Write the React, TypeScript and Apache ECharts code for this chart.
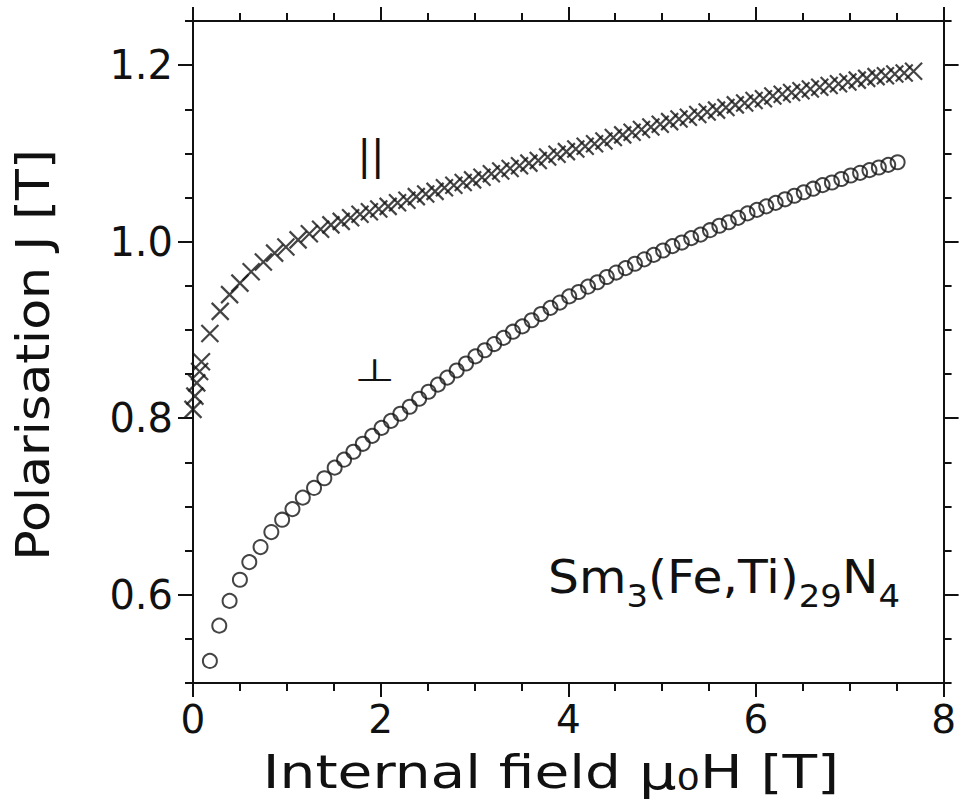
import React, { useEffect, useRef } from "react";
import * as echarts from "echarts";

// Parallel (||) field data: internal field [T] and polarisation [T]
const parField = [
  0, 0.02, 0.04, 0.07, 0.09, 0.18, 0.29, 0.39, 0.5, 0.62, 0.75, 0.87, 0.99, 1.12, 1.24, 1.36, 1.47, 1.58, 1.68, 1.78, 1.88,
  1.98, 2.08, 2.18, 2.28, 2.38, 2.48, 2.58, 2.68, 2.78, 2.88, 2.98, 3.08, 3.18, 3.28, 3.38, 3.48, 3.58, 3.68, 3.78, 3.88,
  3.98, 4.08, 4.18, 4.28, 4.38, 4.48, 4.58, 4.68, 4.78, 4.88, 4.98, 5.08, 5.18, 5.28, 5.38, 5.48, 5.58, 5.68, 5.78, 5.88,
  5.98, 6.08, 6.18, 6.28, 6.38, 6.48, 6.58, 6.68, 6.78, 6.88, 6.98, 7.08, 7.18, 7.28, 7.38, 7.48, 7.58, 7.68,
];
const parJ = [
  0.81, 0.825, 0.84, 0.853, 0.864, 0.896, 0.921, 0.94, 0.953, 0.966, 0.977, 0.987, 0.994, 1.002, 1.009, 1.014, 1.019, 1.023, 1.027, 1.031, 1.034,
  1.037, 1.04, 1.044, 1.047, 1.051, 1.054, 1.057, 1.061, 1.064, 1.067, 1.07, 1.073, 1.077, 1.08, 1.083, 1.086, 1.089, 1.092, 1.096, 1.099,
  1.102, 1.105, 1.108, 1.111, 1.114, 1.118, 1.121, 1.124, 1.127, 1.13, 1.133, 1.136, 1.139, 1.141, 1.144, 1.147, 1.149, 1.152, 1.155, 1.157,
  1.16, 1.162, 1.165, 1.167, 1.169, 1.171, 1.173, 1.175, 1.177, 1.179, 1.181, 1.183, 1.185, 1.187, 1.188, 1.19, 1.191, 1.193,
];

// Perpendicular field data
const perpField = [
  0.18, 0.28, 0.39, 0.5, 0.6, 0.72, 0.835, 0.95, 1.06, 1.17, 1.29, 1.4,
  1.51, 1.61, 1.71, 1.81, 1.91, 2.01, 2.11, 2.21, 2.31, 2.41, 2.51, 2.61, 2.71, 2.81, 2.91,
  3.01, 3.11, 3.21, 3.31, 3.41, 3.51, 3.61, 3.71, 3.81, 3.91, 4.01, 4.11, 4.21, 4.31, 4.41,
  4.51, 4.61, 4.71, 4.81, 4.91, 5.01, 5.11, 5.21, 5.31, 5.41, 5.51, 5.61, 5.71, 5.81, 5.91,
  6.01, 6.11, 6.21, 6.31, 6.41, 6.51, 6.61, 6.71, 6.81, 6.91, 7.01, 7.11, 7.21, 7.31, 7.41, 7.51,
];
const perpJ = [
  0.525, 0.565, 0.593, 0.617, 0.637, 0.654, 0.671, 0.685, 0.697, 0.71, 0.721, 0.732,
  0.744, 0.753, 0.762, 0.771, 0.78, 0.789, 0.797, 0.805, 0.813, 0.822, 0.83, 0.838, 0.846, 0.854, 0.862,
  0.87, 0.877, 0.884, 0.891, 0.898, 0.904, 0.911, 0.918, 0.925, 0.931, 0.938, 0.943, 0.949, 0.954, 0.96,
  0.965, 0.97, 0.975, 0.98, 0.985, 0.99, 0.995, 0.999, 1.004, 1.008, 1.013, 1.018, 1.022, 1.027, 1.032,
  1.036, 1.04, 1.044, 1.048, 1.052, 1.056, 1.06, 1.064, 1.067, 1.071, 1.075, 1.078, 1.081, 1.084, 1.087, 1.09,
];

const yMajorTicks = [0.6, 0.8, 1.0, 1.2];
const yTitle = "Polarisation J [T]";

const FONT = "DejaVu Sans";
const INK = "#111111";

export default function App() {
  const ref = useRef<HTMLDivElement>(null);

  useEffect(() => {
    if (!ref.current) return;
    const chart = echarts.init(ref.current, null, { renderer: "svg" });

    const axisLine = { show: true, lineStyle: { color: INK, width: 2 } };
    const xBase = (pos: "top" | "bottom", labels: boolean) => ({
      type: "value",
      min: 0,
      max: 8,
      interval: 2,
      position: pos,
      axisLine,
      axisTick: { show: true, length: 14, inside: false, lineStyle: { color: INK, width: 2 } },
      minorTick: { show: true, splitNumber: 4, length: 8, lineStyle: { color: INK, width: 2 } },
      splitLine: { show: false },
      minorSplitLine: { show: false },
      axisLabel: {
        show: labels,
        fontSize: 39,
        fontFamily: FONT,
        color: INK,
        margin: 17,
      },
    });
    const yMinor = (pos: "left" | "right", labels: boolean) => ({
      type: "value",
      min: 0.5,
      max: 1.25,
      interval: 0.05,
      position: pos,
      axisLine,
      axisTick: { show: true, length: 8, inside: false, lineStyle: { color: INK, width: 2 } },
      splitLine: { show: false },
      axisLabel: {
        show: labels,
        customValues: yMajorTicks,
        formatter: (v: number) => Number(v).toFixed(1),
        fontSize: 40,
        fontFamily: FONT,
        color: INK,
        margin: 20,
      },
    });
    const yMajor = (pos: "left" | "right") => ({
      type: "value",
      min: 0.5,
      max: 1.25,
      position: pos,
      axisLine: { show: false },
      axisTick: { show: true, length: 15, inside: false, customValues: yMajorTicks, lineStyle: { color: INK, width: 2 } },
      axisLabel: { show: false },
      splitLine: { show: false },
    });

    chart.setOption({
      animation: false,
      backgroundColor: "#ffffff",
      grid: { left: 193, right: 12, top: 21, bottom: 121, containLabel: false },
      xAxis: [xBase("bottom", true), xBase("top", false)],
      yAxis: [yMinor("left", true), yMajor("left"), yMinor("right", false), yMajor("right")],
      series: [
        {
          name: "parallel",
          type: "scatter",
          xAxisIndex: 0,
          yAxisIndex: 0,
          data: parField.map((x, i) => [x, parJ[i]]),
          symbol: "path://M0,0L10,10M10,0L0,10",
          symbolSize: 17,
          itemStyle: { color: "rgba(0,0,0,0)", borderColor: "#151515", borderWidth: 2.2 },
        },
        {
          name: "perpendicular",
          type: "scatter",
          xAxisIndex: 0,
          yAxisIndex: 0,
          data: perpField.map((x, i) => [x, perpJ[i]]),
          symbol: "circle",
          symbolSize: 14,
          itemStyle: { color: "rgba(0,0,0,0)", borderColor: "#151515", borderWidth: 2 },
        },
      ],
      graphic: [
        {
          type: "text",
          x: 551,
          y: 772,
          scaleX: 1.23,
          style: {
            text: "{n|Internal field }{m|μ}{s|0}{n|H [T]}",
            align: "center",
            verticalAlign: "middle",
            rich: {
              n: { fontSize: 46, fontFamily: FONT, fill: INK, lineHeight: 46, verticalAlign: "middle" },
              m: { fontSize: 48, fontFamily: FONT, fill: INK, lineHeight: 46, verticalAlign: "middle" },
              s: { fontSize: 30, fontFamily: FONT, fill: INK, verticalAlign: "bottom" },
            },
          },
        },
        {
          type: "text",
          x: 33,
          y: 355,
          rotation: Math.PI / 2,
          scaleX: 1.1,
          style: {
            text: yTitle,
            align: "center",
            verticalAlign: "middle",
            fontSize: 46,
            fontFamily: FONT,
            fill: INK,
          },
        },
        {
          type: "text",
          x: 371,
          y: 155,
          style: { text: "||", align: "center", verticalAlign: "middle", fontSize: 40, fontFamily: FONT, fill: INK },
        },
        {
          type: "text",
          x: 375,
          y: 370,
          scaleX: 1.5,
          style: { text: "⊥", align: "center", verticalAlign: "middle", fontSize: 31, fontFamily: FONT, fill: INK },
        },
        {
          type: "text",
          x: 548,
          y: 577,
          scaleX: 1.06,
          style: {
            text: "{n|Sm}{s|3}{n|(Fe,Ti)}{s|29}{n|N}{s|4}",
            align: "left",
            verticalAlign: "middle",
            rich: {
              n: { fontSize: 46, fontFamily: FONT, fill: INK, lineHeight: 70, verticalAlign: "middle" },
              s: { fontSize: 32, fontFamily: FONT, fill: INK, verticalAlign: "bottom" },
            },
          },
        },
      ],
    });

    return () => chart.dispose();
  }, []);

  return (
    <div
      ref={ref}
      style={{ position: "fixed", left: 0, top: 0, width: 959, height: 804, background: "#fff" }}
    />
  );
}
